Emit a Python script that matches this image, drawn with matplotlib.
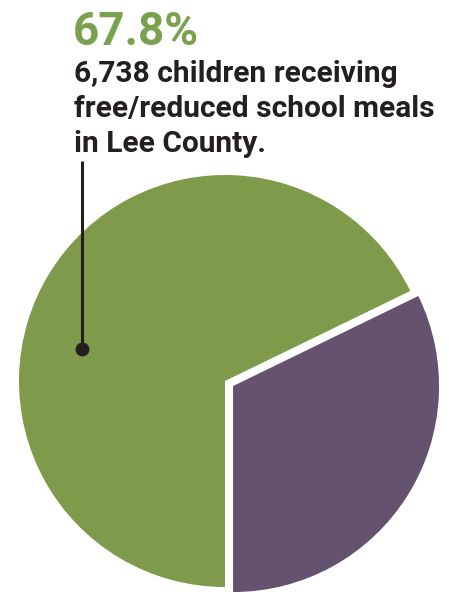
import matplotlib
matplotlib.use("Agg")
import matplotlib.pyplot as plt

labels = ["Free/reduced meals", "Other"]
values = [67.8, 32.2]
colors = ["#7F9A4B", "#65526E"]
headline = "67.8%"
caption_lines = ["6,738 children receiving", "free/reduced school meals", "in Lee County."]

W, H = 449, 597
fig = plt.figure(figsize=(W / 100, H / 100), dpi=100)
ax = fig.add_axes([0, 0, 1, 1])
ax.set_xlim(0, W)
ax.set_ylim(0, H)
ax.set_aspect("equal")
ax.axis("off")

ax.pie(values, colors=colors, startangle=-90, counterclock=False,
       explode=[0, 9.5], radius=206, center=(225, H - 381),
       wedgeprops=dict(linewidth=0))
ax.set_xlim(0, W)
ax.set_ylim(0, H)

font = ["Roboto", "DejaVu Sans"]
ax.text(73, H - 45, headline, color="#79A14E", fontsize=33, fontweight="bold",
        family=font, va="baseline", ha="left")
for i, line in enumerate(caption_lines):
    ax.text(74, H - 82 - 35 * i, line, color="#231F20", fontsize=21.5,
            fontweight="bold", family=font, va="baseline", ha="left")

ax.plot([82, 82], [H - 161, H - 349], color="#231F20", lw=2.2, solid_capstyle="butt")
ax.plot([82], [H - 349], "o", color="#231F20", ms=9)

fig.savefig("out.png", dpi=100)
